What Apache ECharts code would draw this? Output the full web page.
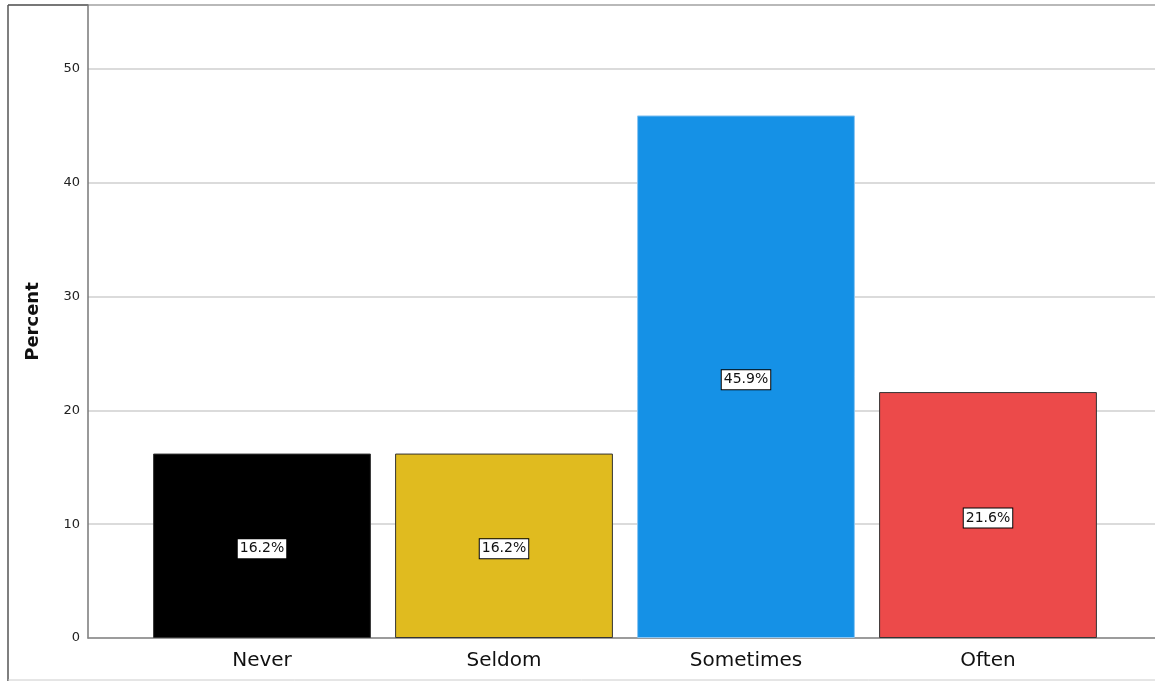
<!DOCTYPE html>
<html>
<head>
<meta charset="utf-8">
<script src="https://cdn.jsdelivr.net/npm/echarts@6/dist/echarts.min.js"></script>
<style>html,body{margin:0;padding:0;background:#fff;}#c{width:1155px;height:681px;}</style>
</head>
<body>
<div id="c"></div>
<script>
const categories = ['Never', 'Seldom', 'Sometimes', 'Often'];
const percents = [16.2, 16.2, 45.9, 21.6];
const barColors = ['#000000', '#E0BB1F', '#1591E6', '#EC4A4A'];
const barBorders = ['#333333', '#333333', '#8CC6F2', '#333333'];
const yTicks = [0, 10, 20, 30, 40, 50];

const chart = echarts.init(document.getElementById('c'));
const font = 'DejaVu Sans';
chart.setOption({
  animation: false,
  textStyle: { fontFamily: font },
  graphic: [
    { type: 'line', shape: { x1: 8, y1: 5, x2: 1155, y2: 5 }, style: { stroke: '#777', lineWidth: 2 } },
    { type: 'line', shape: { x1: 8, y1: 5, x2: 8, y2: 681 }, style: { stroke: '#555', lineWidth: 1.5 } },
    { type: 'line', shape: { x1: 8, y1: 680, x2: 1155, y2: 680 }, style: { stroke: '#ccc', lineWidth: 1 } }
  ],
  grid: [
    { left: 88, right: 0, top: 5, bottom: 43 },
    { left: 141, right: 46, top: 5, bottom: 43 }
  ],
  xAxis: [
    { gridIndex: 0, type: 'category', data: [''], axisLine: { show: true, lineStyle: { color: '#888', width: 1.5 } }, axisTick: { show: false }, axisLabel: { show: false } },
    { gridIndex: 1, type: 'category', data: categories, axisLine: { show: false }, axisTick: { show: false },
      axisLabel: { fontSize: 20, color: '#111', margin: 13, fontFamily: font } }
  ],
  yAxis: [
    { gridIndex: 0, type: 'value', min: 0, max: 55.6, interval: 10,
      name: 'Percent', nameLocation: 'middle', nameGap: 46, nameRotate: 90,
      nameTextStyle: { fontSize: 18, fontWeight: 'bold', color: '#111', fontFamily: font },
      axisLine: { show: true, lineStyle: { color: '#777', width: 1.5 } }, axisTick: { show: false },
      axisLabel: { fontSize: 13, color: '#222', margin: 8, formatter: v => (yTicks.includes(v) ? String(v) : '') },
      splitLine: { show: true, lineStyle: { color: '#cfcfcf', width: 1.5 } } },
    { gridIndex: 1, type: 'value', min: 0, max: 55.6, show: false, splitLine: { show: false } }
  ],
  series: [{
    type: 'bar', xAxisIndex: 1, yAxisIndex: 1, barCategoryGap: '10%',
    data: percents.map((v, i) => ({ value: v, itemStyle: { color: barColors[i], borderColor: barBorders[i], borderWidth: 1 } })),
    label: { show: true, position: 'inside', offset: [0, 3], formatter: p => p.value.toFixed(1) + '%',
      backgroundColor: '#fff', borderColor: '#000', borderWidth: 1, padding: [3, 2, 2, 2],
      color: '#111', fontSize: 14, fontFamily: font }
  }]
});
</script>
</body>
</html>
